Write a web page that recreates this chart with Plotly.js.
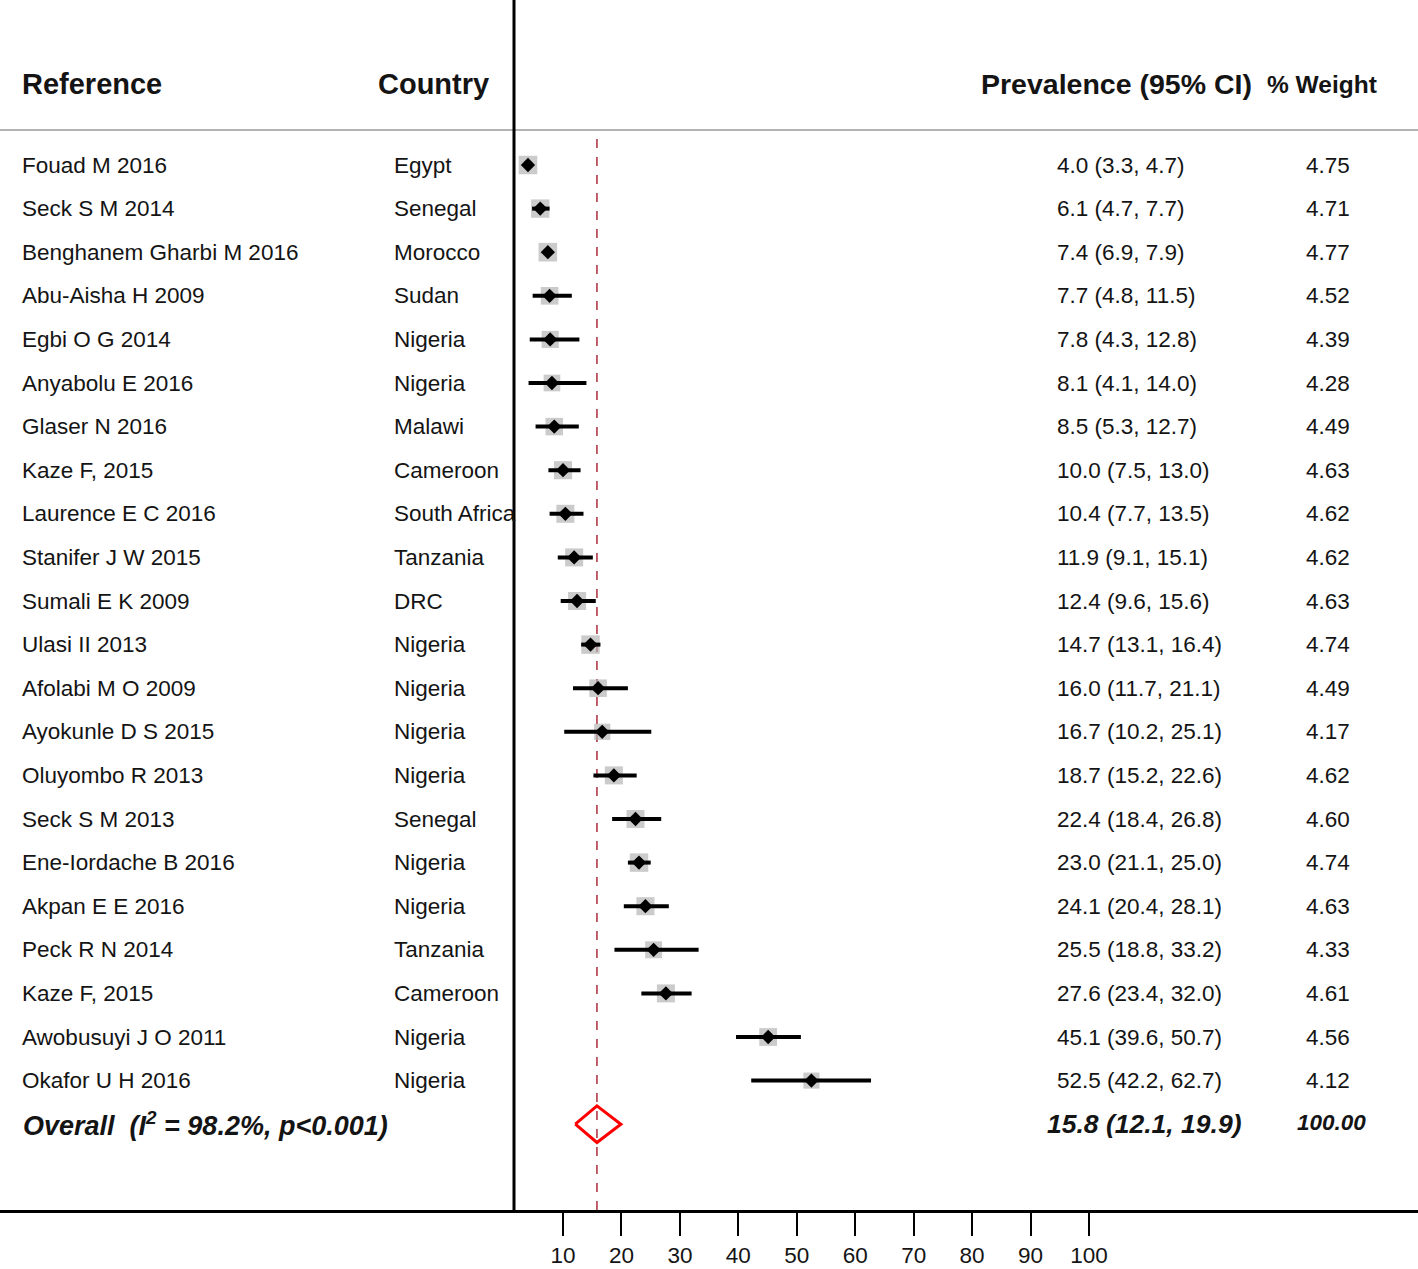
<!DOCTYPE html>
<html><head><meta charset="utf-8">
<script src="https://cdn.plot.ly/plotly-3.0.1.min.js"></script>
<style>html,body{margin:0;padding:0;background:#fff}#chart{width:1418px;height:1269px}</style>
</head><body><div id="chart"></div>
<script>
const refs = ["Fouad M 2016","Seck S M 2014","Benghanem Gharbi M 2016","Abu-Aisha H 2009","Egbi O G 2014","Anyabolu E 2016","Glaser N 2016","Kaze F, 2015","Laurence E C 2016","Stanifer J W 2015","Sumali E K 2009","Ulasi II 2013","Afolabi M O 2009","Ayokunle D S 2015","Oluyombo R 2013","Seck S M 2013","Ene-Iordache B 2016","Akpan E E 2016","Peck R N 2014","Kaze F, 2015","Awobusuyi J O 2011","Okafor U H 2016"];
const countries = ["Egypt","Senegal","Morocco","Sudan","Nigeria","Nigeria","Malawi","Cameroon","South Africa","Tanzania","DRC","Nigeria","Nigeria","Nigeria","Nigeria","Senegal","Nigeria","Nigeria","Tanzania","Cameroon","Nigeria","Nigeria"];
const est = [4.0,6.1,7.4,7.7,7.8,8.1,8.5,10.0,10.4,11.9,12.4,14.7,16.0,16.7,18.7,22.4,23.0,24.1,25.5,27.6,45.1,52.5];
const lo  = [3.3,4.7,6.9,4.8,4.3,4.1,5.3,7.5,7.7,9.1,9.6,13.1,11.7,10.2,15.2,18.4,21.1,20.4,18.8,23.4,39.6,42.2];
const hi  = [4.7,7.7,7.9,11.5,12.8,14.0,12.7,13.0,13.5,15.1,15.6,16.4,21.1,25.1,22.6,26.8,25.0,28.1,33.2,32.0,50.7,62.7];
const wt  = [4.75,4.71,4.77,4.52,4.39,4.28,4.49,4.63,4.62,4.62,4.63,4.74,4.49,4.17,4.62,4.60,4.74,4.63,4.33,4.61,4.56,4.12];
const overallEst = 15.8, overallLo = 12.1, overallHi = 19.9, overallWt = "100.00";
const overallLabel = "Overall  (I<sup>2</sup> = 98.2%, p&lt;0.001)";
const tickVals = [10,20,30,40,50,60,70,80,90,100];

const W = 1418, H = 1269, B = 59;
const plotH = H - B;
const x0px = 504.6, pxPerUnit = 5.844;
const row0 = 165, rowStep = 43.6;
const n = est.length;
const ys = est.map((_, i) => i);
const yOverall = n;
const px = p => p / W;
const py = p => 1 - p / plotH;

const FONT = "'Liberation Sans Narrow', 'Arial Narrow', 'Liberation Sans', Arial, sans-serif";
const txt = '#141414';
const ROW = 22.5;

const traces = [
  { type: 'scatter', mode: 'markers', x: est, y: ys, hoverinfo: 'skip',
    marker: { symbol: 'square', size: wt.map(w => w * 3.9), color: '#b5b5b5', line: { width: 0 } } },
  { type: 'scatter', mode: 'markers', x: est, y: ys, hoverinfo: 'skip',
    marker: { symbol: 'diamond', size: 11, color: '#000', line: { width: 0 } },
    error_x: { type: 'data', symmetric: false, array: hi.map((h, i) => h - est[i]),
      arrayminus: lo.map((l, i) => est[i] - l), color: '#000', thickness: 4, width: 0 } },
  { type: 'scatter', mode: 'lines', hoverinfo: 'skip',
    x: [overallLo, overallEst, overallHi, overallEst, overallLo],
    y: [yOverall, yOverall - 0.42, yOverall, yOverall + 0.42, yOverall],
    line: { color: '#ff0000', width: 3 } }
];

const ann = [];
const A = (o) => ann.push(Object.assign({ showarrow: false, yref: 'y', xref: 'paper', yanchor: 'middle',
  font: { family: FONT, size: ROW, color: txt } }, o));
for (let i = 0; i < n; i++) {
  A({ x: px(20), xanchor: 'left', y: i, text: refs[i] });
  A({ x: px(392), xanchor: 'left', y: i, text: countries[i] });
  A({ x: px(1055), xanchor: 'left', y: i, text: est[i].toFixed(1) + ' (' + lo[i].toFixed(1) + ', ' + hi[i].toFixed(1) + ')' });
  A({ x: px(1328), xanchor: 'center', y: i, text: wt[i].toFixed(2) });
}
A({ x: px(21), xanchor: 'left', y: yOverall, text: '<b><i>' + overallLabel + '</i></b>', font: { family: FONT, size: 27, color: txt } });
A({ x: px(1045), xanchor: 'left', y: yOverall, text: '<b><i>' + overallEst.toFixed(1) + ' (' + overallLo.toFixed(1) + ', ' + overallHi.toFixed(1) + ')</i></b>', font: { family: FONT, size: 26.5, color: txt } });
A({ x: px(1331), xanchor: 'center', y: yOverall - 0.05, text: '<b><i>' + overallWt + '</i></b>', font: { family: FONT, size: 22.5, color: txt } });
const hdr = { family: FONT, size: 29, color: txt };
ann.push({ showarrow: false, xref: 'paper', yref: 'paper', x: px(20), xanchor: 'left', y: py(84), yanchor: 'middle', text: '<b>Reference</b>', font: hdr });
ann.push({ showarrow: false, xref: 'paper', yref: 'paper', x: px(491), xanchor: 'right', y: py(84), yanchor: 'middle', text: '<b>Country</b>', font: hdr });
ann.push({ showarrow: false, xref: 'paper', yref: 'paper', x: px(1254), xanchor: 'right', y: py(84), yanchor: 'middle', text: '<b>Prevalence (95% CI)</b>', font: { family: FONT, size: 28.5, color: txt } });
ann.push({ showarrow: false, xref: 'paper', yref: 'paper', x: px(1379), xanchor: 'right', y: py(84), yanchor: 'middle', text: '<b>% Weight</b>', font: { family: FONT, size: 24.5, color: txt } });

const layout = {
  width: W, height: H, margin: { l: 0, r: 0, t: 0, b: B },
  paper_bgcolor: '#fff', plot_bgcolor: '#fff', showlegend: false,
  xaxis: { range: [-x0px / pxPerUnit, (W - x0px) / pxPerUnit], showgrid: false, zeroline: false,
    showline: true, linecolor: '#000', linewidth: 2.5, ticks: 'outside', ticklen: 23, tickwidth: 2, tickcolor: '#000',
    tickvals: tickVals, ticktext: tickVals.map(String), tickfont: { family: FONT, size: 22.5, color: txt }, fixedrange: true },
  yaxis: { range: [(plotH - row0) / rowStep, -row0 / rowStep], visible: false, showgrid: false, zeroline: false, fixedrange: true },
  shapes: [
    { type: 'line', xref: 'paper', yref: 'paper', x0: 0, x1: 1, y0: py(130), y1: py(130), line: { color: '#b3b3b3', width: 2 } },
    { type: 'line', xref: 'x', yref: 'paper', x0: overallEst, x1: overallEst, y0: 0, y1: py(130), line: { color: '#b03a48', width: 1.6, dash: 'dash' }, layer: 'below' },
    { type: 'line', xref: 'paper', yref: 'paper', x0: px(514), x1: px(514), y0: 0, y1: 1, line: { color: '#000', width: 3 } }
  ],
  annotations: ann
};
Plotly.newPlot('chart', traces, layout, { staticPlot: true, displayModeBar: false });
</script></body></html>
